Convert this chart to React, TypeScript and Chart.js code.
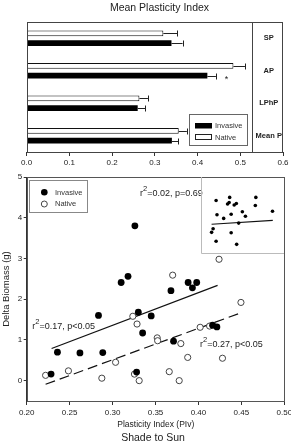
import React, { useEffect, useRef } from 'react';
import { Chart, registerables } from 'chart.js';

Chart.register(...registerables);

const FONT = '"Liberation Sans", Arial, Helvetica, sans-serif';

// ---- Top chart: Mean Plasticity Index ----
const traitLabels = ['SP', 'AP', 'LPhP', 'Mean P'];
const nativeMean = [0.32, 0.484, 0.264, 0.356];
const nativeErr = [0.032, 0.027, 0.02, 0.019];
const invasiveMean = [0.339, 0.423, 0.26, 0.34];
const invasiveErr = [0.026, 0.02, 0.018, 0.015];
const barTicks = [0, 0.1, 0.2, 0.3, 0.4, 0.5, 0.6];
const labelColumnStart = 0.527;
const starValue = 0.468;

// ---- Bottom chart: Delta Biomass vs Plasticity Index ----
const invasiveX = [0.2284, 0.2358, 0.262, 0.2836, 0.2886, 0.31, 0.318, 0.326, 0.328, 0.33, 0.335, 0.345, 0.368, 0.371, 0.388, 0.393, 0.398, 0.4165, 0.4215];
const invasiveY = [0.16, 0.7, 0.68, 1.6, 0.69, 2.41, 2.56, 3.8, 0.21, 1.68, 1.17, 1.59, 2.21, 0.97, 2.41, 2.28, 2.41, 1.36, 1.32];
const nativeX = [0.222, 0.2486, 0.2875, 0.3035, 0.3236, 0.3255, 0.3285, 0.331, 0.352, 0.3525, 0.366, 0.37, 0.3776, 0.3795, 0.3875, 0.402, 0.413, 0.424, 0.428, 0.4495];
const nativeY = [0.13, 0.24, 0.06, 0.45, 1.58, 0.16, 1.39, 0.0, 1.05, 0.98, 0.22, 2.59, 0.0, 0.91, 0.57, 1.31, 1.34, 2.98, 0.55, 1.92];
const invasiveFitX = [0.229, 0.4223];
const invasiveFitY = [0.79, 2.34];
const nativeFitX = [0.222, 0.45];
const nativeFitY = [-0.09, 1.67];
const pivTicks = [0.2, 0.25, 0.3, 0.35, 0.4, 0.45, 0.5];
const biomassTicks = [0, 1, 2, 3, 4, 5];

// ---- Inset ----
const insetX = [1.48, 3.29, 3.01, 3.22, 3.89, 4.18, 6.78, 6.71, 1.6, 3.49, 2.49, 4.98, 5.39, 9.0, 4.49, 1.08, 0.88, 3.49, 1.48, 4.22];
const insetY = [7.18, 7.62, 6.66, 6.88, 6.53, 6.75, 7.62, 6.45, 5.1, 5.19, 4.58, 5.55, 4.9, 5.62, 3.9, 3.08, 2.56, 2.51, 1.26, 0.82];
const insetFitX = [0.88, 9.04];
const insetFitY = [3.73, 4.29];

const pts = (xs: number[], ys: number[]) => xs.map((x, i) => ({ x, y: ys[i] }));

function drawR2(ctx: CanvasRenderingContext2D, x: number, y: number, rest: string) {
  ctx.textAlign = 'left';
  ctx.textBaseline = 'alphabetic';
  ctx.fillStyle = '#222';
  ctx.font = `9px ${FONT}`;
  ctx.fillText('r', x, y);
  let w = ctx.measureText('r').width;
  ctx.font = `7.5px ${FONT}`;
  ctx.fillText('2', x + w, y - 5);
  w += ctx.measureText('2').width;
  ctx.font = `9px ${FONT}`;
  ctx.fillText(rest, x + w, y);
}

const errorBars = {
  id: 'errorBars',
  afterDatasetsDraw(chart: any) {
    const { ctx, scales } = chart;
    const errs = [nativeErr, invasiveErr];
    const means = [nativeMean, invasiveMean];
    ctx.save();
    ctx.strokeStyle = '#222';
    ctx.lineWidth = 1;
    [0, 1].forEach((d) => {
      const meta = chart.getDatasetMeta(d);
      meta.data.forEach((el: any, j: number) => {
        const x0 = el.x;
        const x1 = scales.x.getPixelForValue(means[d][j] + errs[d][j]);
        const y = Math.round(el.y) + 0.5;
        ctx.beginPath();
        ctx.moveTo(x0, y);
        ctx.lineTo(x1, y);
        ctx.moveTo(Math.round(x1) + 0.5, y - 3);
        ctx.lineTo(Math.round(x1) + 0.5, y + 3);
        ctx.stroke();
      });
    });
    ctx.restore();
  },
};

const topDecor = {
  id: 'topDecor',
  afterDraw(chart: any) {
    const { ctx, chartArea: a, scales } = chart;
    ctx.save();
    ctx.strokeStyle = '#444';
    ctx.lineWidth = 1;
    ctx.strokeRect(Math.round(a.left) + 0.5, Math.round(a.top) + 0.5, Math.round(a.right - a.left) - 1, Math.round(a.bottom - a.top));
    const sx = Math.round(scales.x.getPixelForValue(labelColumnStart)) + 0.5;
    ctx.beginPath();
    ctx.moveTo(sx, a.top);
    ctx.lineTo(sx, a.bottom);
    ctx.stroke();

    ctx.fillStyle = '#222';
    ctx.font = `bold 7.5px ${FONT}`;
    ctx.textAlign = 'center';
    ctx.textBaseline = 'middle';
    const cx = (sx + a.right) / 2 + 1;
    traitLabels.forEach((l, i) => ctx.fillText(l, cx, scales.y.getPixelForValue(i)));

    // significance star on AP invasive
    const el = chart.getDatasetMeta(1).data[1];
    ctx.font = `9px ${FONT}`;
    ctx.textBaseline = 'alphabetic';
    ctx.fillText('*', scales.x.getPixelForValue(starValue), el.y + 6);

    // title
    ctx.font = `10.5px ${FONT}`;
    ctx.textBaseline = 'middle';
    ctx.fillText('Mean Plasticity Index', 159.5, 8);

    // legend
    ctx.strokeStyle = '#666';
    ctx.fillStyle = '#fff';
    ctx.fillRect(189.5, 114.5, 58, 31);
    ctx.strokeRect(189.5, 114.5, 58, 31);
    ctx.fillStyle = '#000';
    ctx.fillRect(195, 123, 17, 5.5);
    ctx.strokeStyle = '#222';
    ctx.strokeRect(195.5, 134.5, 16, 5);
    ctx.fillStyle = '#333';
    ctx.font = `7.5px ${FONT}`;
    ctx.textAlign = 'left';
    ctx.fillText('Invasive', 215, 126);
    ctx.fillText('Native', 215, 137.5);
    ctx.restore();
  },
};

const mainDecor = {
  id: 'mainDecor',
  afterDraw(chart: any) {
    const { ctx, chartArea: a } = chart;
    ctx.save();
    ctx.strokeStyle = '#555';
    ctx.lineWidth = 1;
    ctx.strokeRect(Math.round(a.left) + 0.5, Math.round(a.top) + 0.5, Math.round(a.right - a.left) - 1, Math.round(a.bottom - a.top));

    // legend
    ctx.strokeStyle = '#888';
    ctx.strokeRect(29.5, 10.5, 58, 32);
    ctx.fillStyle = '#000';
    ctx.beginPath();
    ctx.arc(44.3, 22.3, 3.3, 0, Math.PI * 2);
    ctx.fill();
    ctx.strokeStyle = '#444';
    ctx.beginPath();
    ctx.arc(44.3, 34, 3, 0, Math.PI * 2);
    ctx.stroke();
    ctx.fillStyle = '#333';
    ctx.font = `7.5px ${FONT}`;
    ctx.textAlign = 'left';
    ctx.textBaseline = 'middle';
    ctx.fillText('Invasive', 55, 22.5);
    ctx.fillText('Native', 55, 34.3);

    // annotations
    drawR2(ctx, 32.3, 159, '=0.17, p<0.05');
    drawR2(ctx, 200, 177.3, '=0.27, p<0.05');
    drawR2(ctx, 140, 25.7, '=0.02, p=0.69');

    // axis titles
    ctx.fillStyle = '#222';
    ctx.textAlign = 'center';
    ctx.textBaseline = 'middle';
    ctx.font = `8.5px ${FONT}`;
    ctx.fillText('Plasticity Index (PIv)', 155.8, 255);
    ctx.font = `10.5px ${FONT}`;
    ctx.fillText('Shade to Sun', 153, 268.5);
    ctx.save();
    ctx.translate(6.5, 119);
    ctx.rotate(-Math.PI / 2);
    ctx.font = `9.5px ${FONT}`;
    ctx.fillText('Delta Biomass (g)', 0, 0);
    ctx.restore();
    ctx.restore();
  },
};

const insetDecor = {
  id: 'insetDecor',
  afterDraw(chart: any) {
    const { ctx, width, height } = chart;
    ctx.save();
    ctx.strokeStyle = '#bbb';
    ctx.lineWidth = 1;
    ctx.beginPath();
    ctx.moveTo(0.5, 0);
    ctx.lineTo(0.5, height - 0.5);
    ctx.lineTo(width, height - 0.5);
    ctx.stroke();
    ctx.restore();
  },
};

export default function App() {
  const topRef = useRef<HTMLCanvasElement>(null);
  const mainRef = useRef<HTMLCanvasElement>(null);
  const insetRef = useRef<HTMLCanvasElement>(null);

  useEffect(() => {
    Chart.defaults.font.family = FONT;
    Chart.defaults.color = '#222';

    const top = new Chart(topRef.current as HTMLCanvasElement, {
      type: 'bar',
      data: {
        labels: traitLabels,
        datasets: [
          {
            label: 'Native',
            data: nativeMean,
            backgroundColor: '#fff',
            borderColor: '#111',
            borderWidth: 1,
            borderSkipped: false,
            categoryPercentage: 0.6,
            barPercentage: 0.58,
          },
          {
            label: 'Invasive',
            data: invasiveMean,
            backgroundColor: '#000',
            borderColor: '#000',
            borderWidth: 0,
            categoryPercentage: 0.6,
            barPercentage: 0.58,
          },
        ],
      },
      options: {
        indexAxis: 'y',
        responsive: false,
        animation: false,
        devicePixelRatio: 1,
        events: [],
        layout: { padding: { left: 26.6, right: 8, top: 22, bottom: 0 } },
        plugins: { legend: { display: false }, tooltip: { enabled: false }, title: { display: false } },
        scales: {
          x: {
            type: 'linear',
            min: 0,
            max: 0.6,
            afterBuildTicks: (scale: any) => {
              scale.ticks = barTicks.map((value) => ({ value }));
            },
            afterFit: (scale: any) => {
              scale.height = 18;
              scale.paddingLeft = 0;
              scale.paddingRight = 0;
            },
            ticks: {
              font: { size: 8 },
              color: '#222',
              padding: 2,
              maxRotation: 0,
              autoSkip: false,
              callback: (v: any) => Number(v).toFixed(1),
            },
            grid: { drawOnChartArea: false, drawTicks: true, tickLength: 4, color: '#333' },
            border: { display: true, color: '#333' },
          },
          y: {
            type: 'category',
            display: false,
            offset: true,
          },
        },
      },
      plugins: [errorBars, topDecor],
    } as any);

    const main = new Chart(mainRef.current as HTMLCanvasElement, {
      type: 'scatter',
      data: {
        datasets: [
          {
            label: 'Invasive',
            data: pts(invasiveX, invasiveY),
            backgroundColor: '#000',
            borderColor: '#000',
            pointRadius: 3.4,
            pointBorderWidth: 0,
          },
          {
            label: 'Native',
            data: pts(nativeX, nativeY),
            backgroundColor: '#fff',
            borderColor: '#444',
            pointRadius: 3.1,
            pointBorderWidth: 1,
          },
          {
            label: 'Invasive fit',
            data: pts(invasiveFitX, invasiveFitY),
            showLine: true,
            pointRadius: 0,
            borderColor: '#111',
            borderWidth: 1.2,
          },
          {
            label: 'Native fit',
            data: pts(nativeFitX, nativeFitY),
            showLine: true,
            pointRadius: 0,
            borderColor: '#111',
            borderWidth: 1.2,
            borderDash: [10, 5],
          },
        ],
      },
      options: {
        responsive: false,
        animation: false,
        devicePixelRatio: 1,
        events: [],
        layout: { padding: { left: 0, right: 6.7, top: 7, bottom: 0 } },
        plugins: { legend: { display: false }, tooltip: { enabled: false } },
        scales: {
          x: {
            type: 'linear',
            min: 0.2,
            max: 0.5,
            afterBuildTicks: (scale: any) => {
              scale.ticks = pivTicks.map((value) => ({ value }));
            },
            afterFit: (scale: any) => {
              scale.height = 44;
              scale.paddingLeft = 0;
              scale.paddingRight = 0;
            },
            ticks: {
              font: { size: 8 },
              color: '#222',
              padding: 3,
              maxRotation: 0,
              autoSkip: false,
              callback: (v: any) => Number(v).toFixed(2),
            },
            grid: { drawOnChartArea: false, drawTicks: true, tickLength: 4, color: '#333' },
            border: { display: true, color: '#333' },
          },
          y: {
            type: 'linear',
            min: -0.5,
            max: 5,
            afterBuildTicks: (scale: any) => {
              scale.ticks = biomassTicks.map((value) => ({ value }));
            },
            afterFit: (scale: any) => {
              scale.width = 26.7;
              scale.paddingTop = 0;
              scale.paddingBottom = 0;
            },
            ticks: {
              font: { size: 8 },
              color: '#222',
              padding: 1.5,
              autoSkip: false,
              callback: (v: any) => String(v),
            },
            grid: { drawOnChartArea: false, drawTicks: true, tickLength: 3, color: '#333' },
            border: { display: true, color: '#333' },
          },
        },
      },
      plugins: [mainDecor],
    } as any);

    const inset = new Chart(insetRef.current as HTMLCanvasElement, {
      type: 'scatter',
      data: {
        datasets: [
          {
            label: 'Inset',
            data: pts(insetX, insetY),
            backgroundColor: '#000',
            borderColor: '#000',
            pointRadius: 1.8,
            pointBorderWidth: 0,
          },
          {
            label: 'Inset fit',
            data: pts(insetFitX, insetFitY),
            showLine: true,
            pointRadius: 0,
            borderColor: '#111',
            borderWidth: 1.2,
          },
        ],
      },
      options: {
        responsive: false,
        animation: false,
        devicePixelRatio: 1,
        events: [],
        layout: { padding: 0 },
        plugins: { legend: { display: false }, tooltip: { enabled: false } },
        scales: {
          x: { type: 'linear', min: 0, max: 10, display: false },
          y: { type: 'linear', min: 0, max: 10, display: false },
        },
      },
      plugins: [insetDecor],
    } as any);

    return () => {
      top.destroy();
      main.destroy();
      inset.destroy();
    };
  }, []);

  return (
    <div style={{ position: 'absolute', left: 0, top: 0, width: 291, height: 445, background: '#fff', overflow: 'hidden' }}>
      <canvas ref={topRef} width={291} height={170} style={{ position: 'absolute', left: 0, top: 0 }} />
      <canvas ref={mainRef} width={291} height={275} style={{ position: 'absolute', left: 0, top: 170 }} />
      <canvas ref={insetRef} width={83} height={77} style={{ position: 'absolute', left: 201, top: 177 }} />
    </div>
  );
}
